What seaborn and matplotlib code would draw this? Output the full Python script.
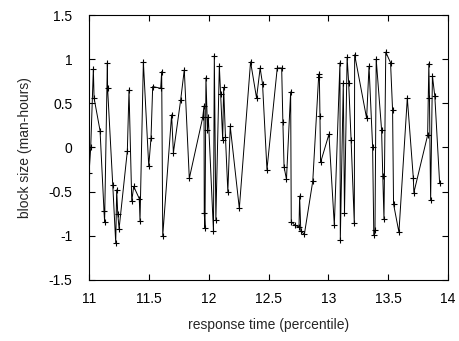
import numpy as np
import pandas as pd
import matplotlib
matplotlib.use("Agg")
import matplotlib.pyplot as plt
import matplotlib.ticker as mticker
import seaborn as sns

# response time (percentile) and block size (man-hours)
response_time = [
    11.000, 11.014, 11.036, 11.042, 11.092, 11.125, 11.130, 11.153, 11.155, 11.198,
    11.223, 11.231, 11.240, 11.251, 11.320, 11.334, 11.357, 11.373, 11.420, 11.426,
    11.454, 11.499, 11.518, 11.532, 11.599, 11.607, 11.616, 11.690, 11.705, 11.766,
    11.796, 11.838, 11.950, 11.961, 11.963, 11.969, 11.977, 11.990, 11.997, 12.040,
    12.047, 12.060, 12.089, 12.100, 12.117, 12.125, 12.140, 12.160, 12.180, 12.256,
    12.350, 12.400, 12.430, 12.450, 12.487, 12.573, 12.610, 12.620, 12.630, 12.650,
    12.685, 12.690, 12.720, 12.755, 12.760, 12.770, 12.800, 12.870, 12.920, 12.925,
    12.930, 12.935, 13.005, 13.050, 13.097, 13.100, 13.125, 13.135, 13.157, 13.170,
    13.190, 13.217, 13.220, 13.320, 13.340, 13.370, 13.380, 13.390, 13.400, 13.445,
    13.455, 13.465, 13.480, 13.520, 13.537, 13.545, 13.590, 13.660, 13.710, 13.715,
    13.830, 13.840, 13.845, 13.855, 13.870, 13.890, 13.930,
]
block_size = [
    -0.29, 0.00, 0.89, 0.56, 0.19, -0.72, -0.84, 0.96, 0.67, -0.42,
    -1.08, -0.48, -0.75, -0.92, -0.04, 0.65, -0.61, -0.44, -0.58, -0.83,
    0.97, -0.21, 0.11, 0.69, 0.67, 0.86, -1.00, 0.37, -0.06, 0.54,
    0.88, -0.35, 0.34, 0.47, -0.74, -0.91, 0.79, 0.20, 0.34, -0.95,
    1.04, -0.82, 0.92, 0.60, 0.09, 0.68, 0.12, -0.50, 0.24, -0.69,
    0.97, 0.56, 0.90, 0.72, -0.25, 0.90, 0.90, 0.29, -0.22, -0.36,
    0.63, -0.84, -0.88, -0.90, -0.55, -0.95, -0.98, -0.38, 0.83, 0.80,
    0.36, -0.17, 0.15, -0.88, 0.96, -1.05, 0.73, -0.74, 1.02, 0.73,
    0.09, -0.86, 1.05, 0.33, 0.92, 0.01, -0.99, -0.93, 1.00, 0.20,
    -0.32, -0.81, 1.08, 0.96, 0.42, -0.64, -0.96, 0.56, -0.34, -0.51,
    0.14, 0.95, 0.56, -0.60, 0.81, 0.58, -0.40,
]

x_ticks = [11, 11.5, 12, 12.5, 13, 13.5, 14]
y_ticks = [-1.5, -1, -0.5, 0, 0.5, 1, 1.5]

df = pd.DataFrame({"response time": response_time, "block size": block_size})

sns.set_style("ticks")
plt.rcParams["font.family"] = ["Liberation Sans", "DejaVu Sans"]

fig = plt.figure(figsize=(4.59, 3.41), dpi=100)
ax = fig.add_axes([0.194, 0.179, 0.782, 0.777])

sns.lineplot(x="response time", y="block size", data=df, sort=False, estimator=None,
             color="black", linewidth=0.7, marker="+", markersize=5,
             markeredgewidth=0.8, markeredgecolor="black", ax=ax)

ax.set_xlim(11, 14)
ax.set_ylim(-1.5, 1.5)
ax.set_xticks(x_ticks)
ax.set_yticks(y_ticks)
fmt = mticker.FuncFormatter(lambda v, p: "%g" % v)
ax.xaxis.set_major_formatter(fmt)
ax.yaxis.set_major_formatter(fmt)
ax.tick_params(direction="in", top=True, right=True, length=4, width=0.8,
               labelsize=10, colors="black")
ax.tick_params(axis="x", pad=9)
ax.tick_params(axis="y", pad=12)
for s in ax.spines.values():
    s.set_visible(True)
    s.set_color("black")
    s.set_linewidth(0.8)

ax.set_xlabel("response time (percentile)", fontsize=10, labelpad=8)
ax.set_ylabel("block size (man-hours)", fontsize=10, labelpad=12)

fig.savefig("out.png", dpi=100)
